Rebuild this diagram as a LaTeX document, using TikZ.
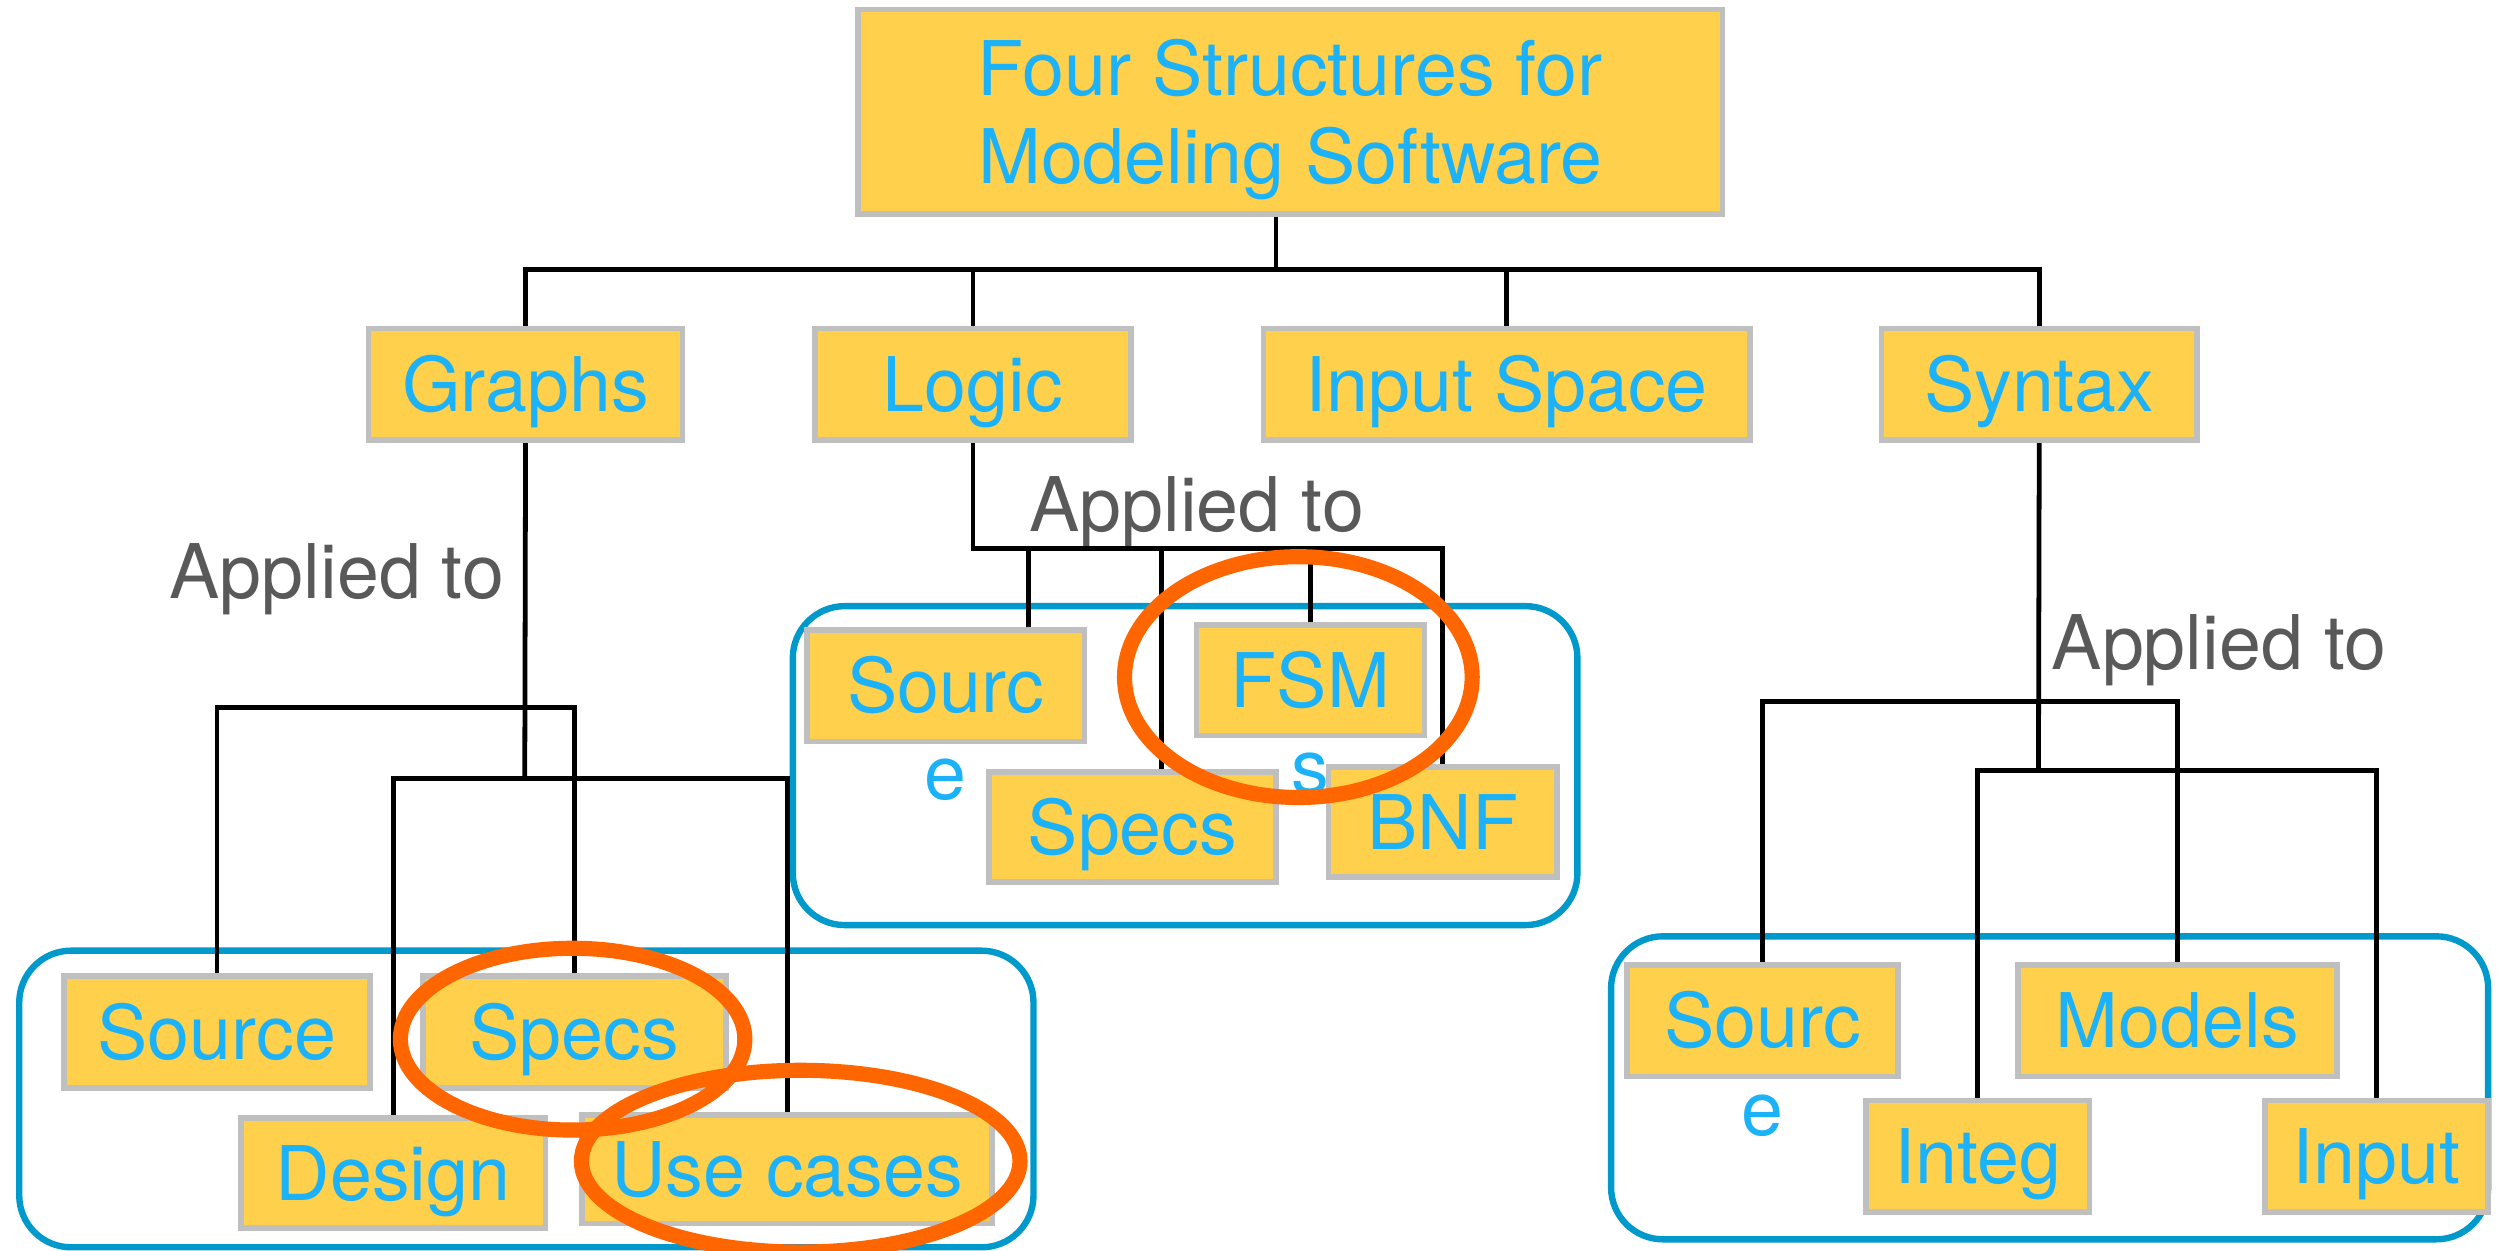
\documentclass[tikz,border=0pt]{standalone}
\usepackage{fontspec}
\setmainfont{TeX Gyre Heros}
\usepackage{tikz}
\usetikzlibrary{positioning}
\definecolor{txtblue}{RGB}{28,178,250}
\definecolor{boxfill}{RGB}{254,208,75}
\definecolor{boxgray}{RGB}{191,191,191}
\definecolor{grpblue}{RGB}{0,153,204}
\definecolor{hiorange}{RGB}{255,102,0}
\definecolor{notegray}{RGB}{89,89,89}
\tikzset{
    box/.style = {
        rectangle, draw=boxgray, line width=0.07cm,
        fill=boxfill, text=txtblue,
        inner sep=0pt, minimum height=1.4cm,
        text height=0.68cm, text depth=0pt
    },
    group/.style = {
        rectangle, draw=grpblue, line width=0.08cm,
        rounded corners=0.65cm
    },
    link/.style = {
        black, line width=0.06cm
    },
    hilite/.style = {
        draw=hiorange, line width=0.19cm
    },
    note/.style = {
        text=notegray, inner sep=0pt, anchor=base west
    },
    spill/.style = {
        text=txtblue, inner sep=0pt, anchor=base
    }
}

\begin{document}
\begin{tikzpicture}[x=0.02cm, y=-0.02cm, font=\fontsize{26.9pt}{31.5pt}\selectfont]

\fill[white] (0,0) rectangle (1568,784);
\useasboundingbox (0,0) rectangle (1568,784);

% groups
\node (gGroup) [group, minimum width=12.72cm, minimum height=3.72cm] at (330,689) {};
\node (lGroup) [group, minimum width=9.84cm, minimum height=4.0cm] at (743,480) {};
\node (sGroup) [group, minimum width=11.0cm, minimum height=3.8cm] at (1285,682) {};

% top levels
\node (top) [box, align=center, text height=, text depth=0pt, minimum width=10.84cm, minimum height=2.56cm] at (809,70) {Four Structures for\\Modeling Software};
\node (graphs) [box, minimum width=3.94cm] at (329.5,241) {Graphs};
\node (logic) [box, minimum width=3.96cm] at (610,241) {Logic};
\node (inspace) [box, minimum width=6.1cm] at (944.5,241) {Input Space};
\node (syntax) [box, minimum width=3.96cm] at (1278.5,241) {Syntax};

% graphs leaves
\node (gsrc) [box, minimum width=3.84cm] at (136,647) {Source};
\node (gspec) [box, minimum width=3.8cm] at (360,647) {Specs};
\node (gdes) [box, minimum width=3.82cm, minimum height=1.38cm] at (246.5,735.5) {Design};
\node (guse) [box, minimum width=5.14cm, minimum height=1.36cm] at (493.5,733) {Use cases};

% logic leaves
\node (lsrc) [box, minimum width=3.48cm] at (593,430) {Sourc};
\node (lsrcE) [spill] at ([yshift=-1.08cm]lsrc.base) {e};
\node (lfsm) [box, minimum width=2.86cm, minimum height=1.38cm] at (821.5,426.5) {FSM};
\node (lfsmS) [spill] at ([yshift=-1.08cm]lfsm.base) {s};
\node (lspec) [box, minimum width=3.6cm, minimum height=1.38cm] at (710,518.5) {Specs};
\node (lbnf) [box, minimum width=2.86cm, minimum height=1.38cm] at (904.5,515.5) {BNF};

% syntax leaves
\node (ssrc) [box, minimum width=3.4cm] at (1105,640) {Sourc};
\node (ssrcE) [spill] at ([yshift=-1.1cm]ssrc.base) {e};
\node (smod) [box, minimum width=4.0cm] at (1365,640) {Models};
\node (sint) [box, minimum width=2.8cm] at (1240,725) {Integ};
\node (sinp) [box, minimum width=2.8cm] at (1490,725) {Input};

% labels
\node (applyG) [note] at (106,375) {Applied to};
\node (applyL) [note] at (645,333) {Applied to};
\node (applyS) [note] at (1286,420) {Applied to};

% top tree
\coordinate (bus) at (800,169);
\draw [link] (top.south -| bus) -- (bus);
\draw [link] (graphs.north) |- (bus) -| (syntax.north);
\draw [link] (logic.north) -- (logic.north |- bus);
\draw [link] (inspace.north) -- (inspace.north |- bus);

% graphs tree
\coordinate (gUp) at (329,443.5);
\coordinate (gLow) at (329,488);
\draw [link] (graphs.south) -- (gLow);
\draw [link] (gsrc.north) |- (gUp) -| (gspec.north);
\draw [link] (gdes.north) |- (gLow) -| (guse.north);

% logic tree
\coordinate (lBus) at (610,344);
\coordinate (lsrcTop) at ([xshift=1.04cm]lsrc.north);
\coordinate (lspecTop) at ([xshift=0.36cm]lspec.north);
\draw [link] (logic.south) |- (lBus) -| (lbnf.north);
\draw [link] (lsrcTop) -- (lsrcTop |- lBus);
\draw [link] (lspecTop) -- (lspecTop |- lBus);
\draw [link] (lfsm.north) -- (lfsm.north |- lBus);

% syntax tree
\coordinate (sUp) at (1278,440);
\coordinate (sLow) at (1278,483);
\draw [link] (syntax.south) -- (sLow);
\draw [link] (ssrc.north) |- (sUp) -| (smod.north);
\draw [link] (sint.north) |- (sLow) -| (sinp.north);

% highlights
\draw [hilite] (359,651.5) ellipse [x radius=2.16cm, y radius=1.14cm];
\draw [hilite] (502,728) ellipse [x radius=2.75cm, y radius=1.14cm];
\draw [hilite] (814,424.5) ellipse [x radius=2.18cm, y radius=1.51cm];

\end{tikzpicture}
\end{document}
